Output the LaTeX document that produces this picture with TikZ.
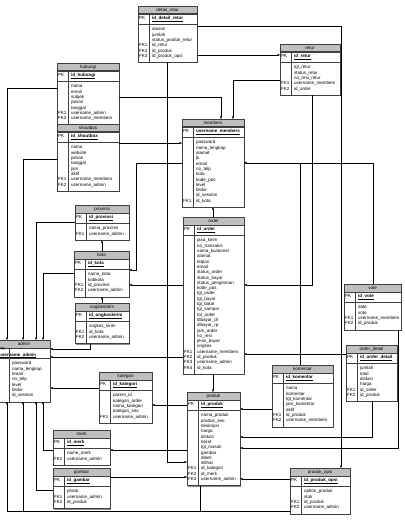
\documentclass[tikz,border=0pt]{standalone}
\usepackage{fontspec}
\setmainfont{Liberation Sans}
\usetikzlibrary{positioning,arrows.meta,backgrounds}

\newlength{\keyw}\setlength{\keyw}{20pt}

\tikzset{
    erhead/.style={draw=black!75, fill=black!25, inner xsep=2pt, inner ysep=0pt,
        minimum height=15pt, align=center, anchor=north west},
    erpk/.style={draw=black!75, fill=white, inner xsep=2pt, inner ysep=0pt,
        minimum height=20pt, align=left},
    erbody/.style={draw=black!75, fill=white, inner xsep=2pt, inner ysep=6.5pt, align=left},
    ersep/.style={draw=black!75},
    ershadow/.style={fill=black!45},
    fk/.style={draw=black, line width=0.5pt, -{Latex[length=5pt,width=4.5pt]}},
}

% #1 name, #2 top left (px), #3 width (px), #4 title, #5 primary key, #6 rows
\newcommand{\ertable}[6]{%
    \pgfmathsetlengthmacro{\ertw}{#3*2pt-4pt}
    \node[erhead, text width=\ertw] (#1) at (#2) {#4};
    \node[erpk, text width=\ertw, below=0pt of #1] (#1-pk)
        {\makebox[\keyw][l]{PK}\hspace{6pt}\underline{\textbf{#5}}};
    \node[erbody, text width=\ertw, below=0pt of #1-pk] (#1-b)
        {\begin{tabular}{@{}p{\keyw}@{\hspace{6pt}}l@{}}#6\end{tabular}};
    \draw[ersep] ([xshift=\keyw+2pt]#1-pk.north west) -- ([xshift=\keyw+2pt]#1-b.south west);
    \begin{scope}[on background layer]
        \fill[ershadow] ([shift={(1,1)}]#1.north west) rectangle ([shift={(1,1)}]#1-b.south east);
    \end{scope}
}

\begin{document}
\begin{tikzpicture}[x=2pt, y=-2pt, font=\fontsize{9}{10.6}\selectfont]
    \useasboundingbox (0,0) rectangle (405,520);

    % tables
    \ertable{dretur}{138,6}{59}{detail\_retur}{id\_detail\_retur}
        {&alasan\\ &jumlah\\ &status\_produk\_retur\\ FK1&id\_retur\\ FK2&id\_produk\\ FK3&id\_produk\_opsi}
    \ertable{retur}{280,44}{60}{retur}{id\_retur}
        {&tgl\_retur\\ &status\_retur\\ &no\_resi\_retur\\ FK1&username\_members\\ FK2&id\_order}
    \ertable{hubungi}{57,63}{62}{hubungi}{id\_hubungi}
        {&nama\\ &email\\ &subjek\\ &pesan\\ &tanggal\\ FK1&username\_admin\\ FK2&username\_members}
    \ertable{shoutbox}{57,124}{62}{shoutbox}{id\_shoutbox}
        {&nama\\ &website\\ &pesan\\ &tanggal\\ &jam\\ &aktif\\ FK1&username\_members\\ FK2&username\_admin}
    \ertable{members}{182,119}{62}{members}{username\_members}
        {&password\\ &nama\_lengkap\\ &alamat\\ &jk\\ &email\\ &no\_telp\\ &kota\\ &kode\_pos\\
         &level\\ &blokir\\ &id\_session\\ FK1&id\_kota}
    \ertable{provinsi}{75,205}{54}{provinsi}{id\_provinsi}
        {&nama\_provinsi\\ FK1&username\_admin}
    \ertable{kota}{74,251}{55}{kota}{id\_kota}
        {&nama\_kota\\ &kabkota\\ FK1&id\_provinsi\\ FK2&username\_admin}
    \ertable{ongkir}{75,303}{54}{ongkoskirim}{id\_ongkoskirim}
        {&ongkos\_kirim\\ FK1&id\_kota\\ FK2&username\_admin}
    \ertable{order}{183,217}{61}{order}{id\_order}
        {&jasa\_kirim\\ &no\_transaksi\\ &nama\_kustomer\\ &alamat\\ &telpon\\ &email\\
         &status\_order\\ &status\_bayar\\ &status\_pengiriman\\ &kode\_pos\\ &tgl\_order\\
         &tgl\_bayar\\ &tgl\_batal\\ &tgl\_sampai\\ &tot\_order\\ &dibayar\_dr\\ &dibayar\_rp\\
         &jam\_order\\ &no\_resi\\ &jenis\_bayar\\ &ongkos\\ FK1&username\_members\\
         FK2&id\_produk\\ FK3&username\_admin\\ FK4&id\_kota}
    \ertable{admin}{-2,340}{52}{admin}{username\_admin}
        {&password\\ &nama\_lengkap\\ &email\\ &no\_telp\\ &level\\ &blokir\\ &id\_session}
    \ertable{kategori}{99,372}{53}{kategori}{id\_kategori}
        {&parent\_id\\ &kategori\_order\\ &nama\_kategori\\ &kategori\_seo\\ FK1&username\_admin}
    \ertable{produk}{187,392}{53}{produk}{id\_produk}
        {&nama\_produk\\ &produk\_seo\\ &deskripsi\\ &harga\\ &diskon\\ &berat\\ &tgl\_masuk\\
         &gambar\\ &dibeli\\ &dilihat\\ FK1&id\_kategori\\ FK2&id\_merk\\ FK3&username\_admin}
    \ertable{komentar}{272,365}{61}{komentar}{id\_komentar}
        {&nama\\ &komentar\\ &tgl\_komentar\\ &jam\_komentar\\ &aktif\\ FK1&id\_produk\\ FK2&username\_members}
    \ertable{vote}{344,284}{57}{vote}{id\_vote}
        {&date\\ &vote\\ FK1&username\_members\\ FK2&id\_produk}
    \ertable{odetail}{346,345}{51}{order\_detail}{id\_order\_detail}
        {&jumlah\\ &total\\ &diskon\\ &harga\\ FK1&id\_order\\ FK2&id\_produk}
    \ertable{merk}{53,430}{57}{merk}{id\_merk}
        {&name\_merk\\ FK1&username\_admin}
    \ertable{gambar}{53,468}{57}{gambar}{id\_gambar}
        {&photo\\ FK1&username\_admin\\ FK2&id\_produk}
    \ertable{popsi}{290,468}{60}{produk\_opsi}{id\_produk\_opsi}
        {&option\_produk\\ &stok\\ FK1&id\_produk\\ FK2&username\_admin}

    % relations (arrow at the referenced table)
    \draw[fk] (dretur.east |- 0,55) -- (retur.west |- 0,55);
    \draw[fk] (dretur.east |- 0,26) -| (popsi.north -| 341,0);
    \draw[fk] (dretur-b.south -| 167,0) |- (produk.west |- 0,462);
    \draw[fk] (retur.west |- 0,80) -| (members.north -| 233,0);
    \draw[fk] (retur-b.south -| 312,0) |- (order.east |- 0,285);
    \draw[fk] (hubungi.east |- 0,97) -| (members.north -| 221,0);
    \draw[fk] (hubungi.west |- 0,88) -| (admin.north -| 7,0);
    \draw[fk] (shoutbox.east |- 0,143) -- (members.west |- 0,143);
    \draw[fk] (shoutbox.west |- 0,159) -| (admin.north -| 23,0);
    \draw[fk] (provinsi.west |- 0,222) -| (admin.north -| 36,0);
    \draw[fk] (kota.north -| 102,0) -- (provinsi-b.south -| 102,0);
    \draw[fk] (kota.west |- 0,273) -| (admin.north -| 43,0);
    \draw[fk] (ongkir.north -| 102,0) -- (kota-b.south -| 102,0);
    \draw[fk] (ongkir-b.south -| 90,0) |- (admin.east |- 0,349);
    \draw[fk] (members.west |- 0,163) -- (136,163) |- (kota.east |- 0,270);
    \draw[fk] (order.north -| 213,0) -- (members-b.south -| 213,0);
    \draw[fk] (order-b.south -| 213,0) -- (produk.north -| 213,0);
    \draw[fk] (order.west |- 0,357) -- (admin.east |- 0,357);
    \draw[fk] (order.west |- 0,285) -- (kota.east |- 0,285);
    \draw[fk] (kategori.west |- 0,388) -- (admin.east |- 0,388);
    \draw[fk] (produk.west |- 0,405) -- (kategori.east |- 0,405);
    \draw[fk] (produk.west |- 0,450) -- (merk.east |- 0,450);
    \draw[fk] (produk-b.south -| 200,0) |- (23,511) -- (admin-b.south -| 23,0);
    \draw[fk] (gambar.east |- 0,477) -- (produk.west |- 0,477);
    \draw[fk] (gambar.west |- 0,490) -| (admin-b.south -| 36,0);
    \draw[fk] (merk.west |- 0,450) -| (admin-b.south -| 43,0);
    \draw[fk] (komentar.west |- 0,409) -- (produk.east |- 0,409);
    \draw[fk] (komentar.north -| 300,0) |- (members.east |- 0,163);
    \draw[fk] (vote.north -| 373,0) |- (members.east |- 0,163);
    \draw[fk] (vote-b.south -| 398,0) |- (produk.east |- 0,448);
    \draw[fk] (odetail-b.south -| 372,0) |- (produk.east |- 0,437);
    \draw[fk] (odetail.west |- 0,354) -- (order.east |- 0,354);
    \draw[fk] (popsi.west |- 0,479) -- (produk.east |- 0,479);
    \draw[fk] (popsi.west |- 0,511) -| (admin-b.south -| 7,0);
\end{tikzpicture}
\end{document}
